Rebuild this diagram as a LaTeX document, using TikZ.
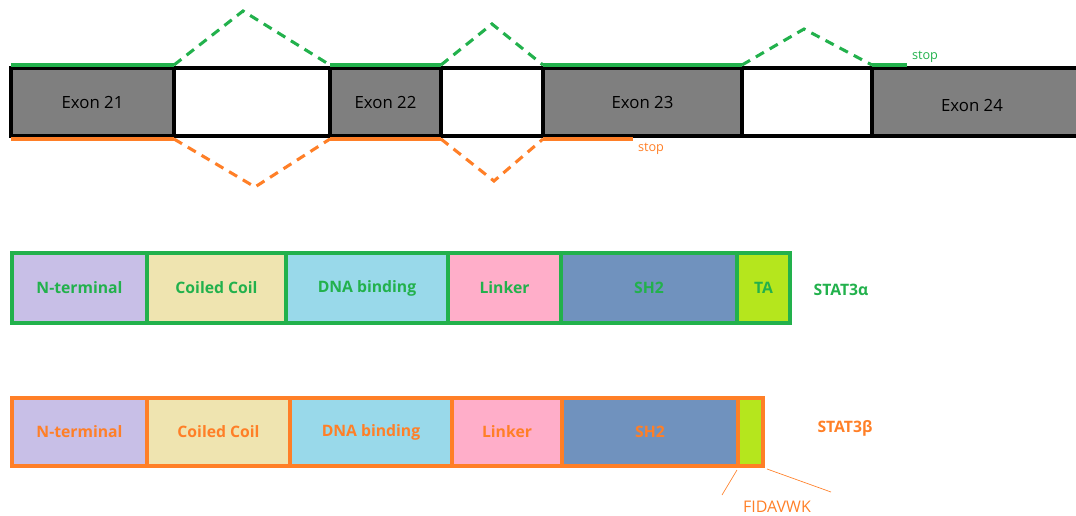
\documentclass[tikz,border=0pt]{standalone}
\usepackage{fontspec}
\setmainfont{Open Sans}
\definecolor{gline}{HTML}{22B14C}
\definecolor{oline}{HTML}{FF7F27}
\definecolor{exgrey}{HTML}{7F7F7F}
\definecolor{nterm}{HTML}{C8BFE7}
\definecolor{coil}{HTML}{EFE4B0}
\definecolor{dna}{HTML}{99D9EA}
\definecolor{linkc}{HTML}{FFAEC9}
\definecolor{shtwo}{HTML}{7092BE}
\definecolor{tac}{HTML}{B5E61D}
\newcommand{\mkseg}[9]{%
  \node[#9, fill=#6, text=#7, minimum width={(#3-#2)*0.75pt}, minimum height={(#5-#4)*0.75pt}] (#1) at ({(#2+#3)/2},{(#4+#5)/2}) {#8};}
\begin{document}
\begin{tikzpicture}[x=0.75pt,y=-0.75pt,
  exonbox/.style={draw=black, line width=2.6pt, inner sep=0pt, font=\fontsize{12.6}{14}\selectfont, text=black},
  gseg/.style={draw=gline, line width=2.9pt, inner sep=0pt, font=\bfseries\fontsize{11.8}{13}\selectfont},
  oseg/.style={draw=oline, line width=2.9pt, inner sep=0pt, font=\bfseries\fontsize{11.8}{13}\selectfont},
  gsolid/.style={draw=gline, line width=2.3pt},
  osolid/.style={draw=oline, line width=2.3pt},
  gdash/.style={draw=gline, line width=2.3pt, dash pattern=on 7pt off 5pt},
  odash/.style={draw=oline, line width=2.3pt, dash pattern=on 7pt off 5pt},
  thinline/.style={draw=oline, line width=0.5pt},
  gtext/.style={text=gline, inner sep=0pt},
  otext/.style={text=oline, inner sep=0pt}]
\useasboundingbox (0,0) rectangle (1076,515);
\begin{scope}
\clip (0,0) rectangle (1076,515);
% exon bar
\mkseg{e21}{11}{174}{68}{136}{exgrey}{black}{Exon 21}{exonbox}
\mkseg{i1}{174}{330}{68}{136}{white}{black}{}{exonbox}
\mkseg{e22}{330}{441}{68}{136}{exgrey}{black}{Exon 22}{exonbox}
\mkseg{i2}{441}{543}{68}{136}{white}{black}{}{exonbox}
\mkseg{e23}{543}{742}{68}{136}{exgrey}{black}{Exon 23}{exonbox}
\mkseg{i3}{742}{872}{68}{136}{white}{black}{}{exonbox}
\mkseg{e24}{872}{1090}{68}{136}{exgrey}{black}{}{exonbox}
\end{scope}
\node[inner sep=0pt, font=\fontsize{12.6}{14}\selectfont] (e24t) at (972,105) {Exon 24};
% green splice path (STAT3 alpha)
\coordinate (ga1) at (11,65);
\coordinate (ga2) at (174,65);
\coordinate (gp1) at (243,11);
\coordinate (gb1) at (330,65);
\coordinate (gb2) at (441,65);
\coordinate (gp2) at (492,24);
\coordinate (gc1) at (543,65);
\coordinate (gc2) at (742,65);
\coordinate (gp3) at (804,29);
\coordinate (gd1) at (872,65);
\coordinate (gd2) at (907,65);
\draw[gsolid] (ga1) -- (ga2);
\draw[gsolid] (gb1) -- (gb2);
\draw[gsolid] (gc1) -- (gc2);
\draw[gsolid] (gd1) -- (gd2);
\draw[gdash] (ga2) -- (gp1) -- (gb1);
\draw[gdash] (gb2) -- (gp2) -- (gc1);
\draw[gdash] (gc2) -- (gp3) -- (gd1);
\node[gtext, font=\fontsize{9.5}{10}\selectfont] (gstop) at (925,57) {stop};
% orange splice path (STAT3 beta)
\coordinate (oa1) at (11,139);
\coordinate (oa2) at (174,139);
\coordinate (op1) at (255,187);
\coordinate (ob1) at (330,139);
\coordinate (ob2) at (441,139);
\coordinate (op2) at (494,181);
\coordinate (oc1) at (543,139);
\coordinate (oc2) at (633,139);
\draw[osolid] (oa1) -- (oa2);
\draw[osolid] (ob1) -- (ob2);
\draw[osolid] (oc1) -- (oc2);
\draw[odash] (oa2) -- (op1) -- (ob1);
\draw[odash] (ob2) -- (op2) -- (oc1);
\node[otext, font=\fontsize{9.5}{10}\selectfont] (ostop) at (651,149) {stop};
% STAT3 alpha protein
\mkseg{a1}{12}{147}{253}{323}{nterm}{gline}{N-terminal}{gseg}
\mkseg{a2}{147}{286}{253}{323}{coil}{gline}{Coiled Coil}{gseg}
\mkseg{a3}{286}{448}{253}{323}{dna}{gline}{DNA binding}{gseg}
\mkseg{a4}{448}{561}{253}{323}{linkc}{gline}{Linker}{gseg}
\mkseg{a5}{561}{737}{253}{323}{shtwo}{gline}{SH2}{gseg}
\mkseg{a6}{737}{790}{253}{323}{tac}{gline}{TA}{gseg}
\node[gtext, font=\bfseries\fontsize{11.8}{13}\selectfont] (alab) at (841,290) {STAT3α};
% STAT3 beta protein
\mkseg{b1}{12}{147}{398}{466}{nterm}{oline}{N-terminal}{oseg}
\mkseg{b2}{147}{290}{398}{466}{coil}{oline}{Coiled Coil}{oseg}
\mkseg{b3}{290}{452}{398}{466}{dna}{oline}{DNA binding}{oseg}
\mkseg{b4}{452}{562}{398}{466}{linkc}{oline}{Linker}{oseg}
\mkseg{b5}{562}{738}{398}{466}{shtwo}{oline}{SH2}{oseg}
\mkseg{b6}{738}{763}{398}{466}{tac}{oline}{}{oseg}
\node[otext, font=\bfseries\fontsize{11.8}{13}\selectfont] (blab) at (845,428) {STAT3β};
% FIDAVWK callout
\coordinate (f1) at (737,470);
\coordinate (f2) at (722,495);
\coordinate (f3) at (767,469);
\coordinate (f4) at (831,492);
\draw[thinline] (f1) -- (f2);
\draw[thinline] (f3) -- (f4);
\node[otext, font=\fontsize{12}{13}\selectfont] (fid) at (777,507) {FIDAVWK};
\end{tikzpicture}
\end{document}
